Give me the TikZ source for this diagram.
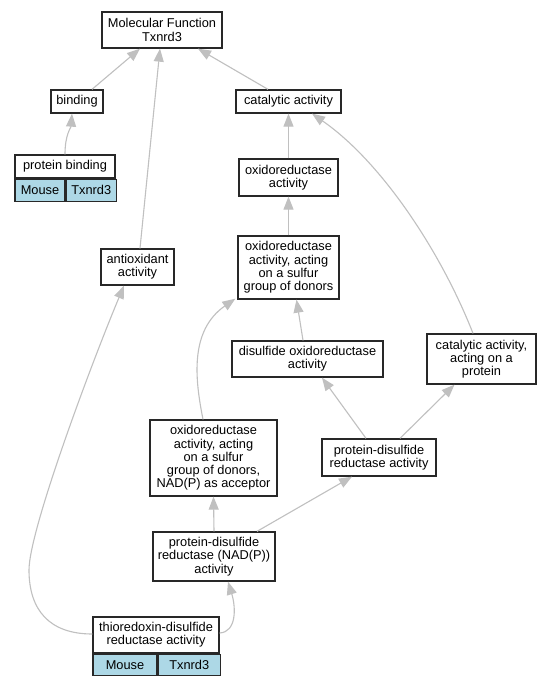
\documentclass[tikz,border=0pt]{standalone}
\usepackage{fontspec}
\setmainfont{Liberation Sans}
\usetikzlibrary{arrows.meta,calc}
\definecolor{edgegray}{RGB}{192,192,192}
\definecolor{cellblue}{RGB}{173,216,230}
\definecolor{boxline}{RGB}{40,40,40}
\begin{document}
\begin{tikzpicture}[x=1pt,y=-1pt,
  gobox/.style={draw=boxline,line width=1.3pt,fill=white,inner sep=0pt,align=center,
    font=\fontsize{12.8}{13.3}\selectfont},
  cellbox/.style={draw=boxline,line width=1.3pt,fill=cellblue,inner sep=0pt,align=center,
    font=\fontsize{12.8}{13.3}\selectfont,anchor=north west},
  isa/.style={draw=edgegray,line width=1.1pt,-{Triangle[length=13pt,width=10pt]},color=edgegray}
]
\useasboundingbox (0,0) rectangle (551,685);
\fill[white] (0,0) rectangle (551,685);

% nodes
\node[gobox,minimum width=120pt,minimum height=36pt] (mf) at (162,30) {Molecular Function\\Txnrd3};
\node[gobox,minimum width=52pt,minimum height=23pt] (binding) at (77,101.5) {binding};
\node[gobox,minimum width=105pt,minimum height=23pt] (catalytic) at (288.5,101.5) {catalytic activity};
\node[gobox,minimum width=100pt,minimum height=23pt] (pbind) at (65,166.5) {protein binding};
\node[cellbox,minimum width=50pt,minimum height=22pt] (pbm) at (pbind.south west) {Mouse};
\node[cellbox,minimum width=50pt,minimum height=22pt] (pbt) at (pbm.north east) {Txnrd3};
\node[gobox,minimum width=99pt,minimum height=37pt] (oxact) at (288.5,177.5) {oxidoreductase\\activity};
\node[gobox,minimum width=73pt,minimum height=36pt] (antiox) at (137.5,267) {antioxidant\\activity};
\node[gobox,minimum width=101pt,minimum height=63pt] (sulfur) at (288.5,267.5) {oxidoreductase\\activity, acting\\on a sulfur\\group of donors};
\node[gobox,minimum width=151pt,minimum height=36pt] (disulf) at (307.5,359) {disulfide oxidoreductase\\activity};
\node[gobox,minimum width=109pt,minimum height=50pt] (catprot) at (481.5,359) {catalytic activity,\\acting on a\\protein};
\node[gobox,minimum width=127pt,minimum height=76pt] (nadp) at (213.5,458) {oxidoreductase\\activity, acting\\on a sulfur\\group of donors,\\NAD(P) as acceptor};
\node[gobox,minimum width=114pt,minimum height=37pt] (pdr) at (379,457.5) {protein-disulfide\\reductase activity};
\node[gobox,minimum width=122pt,minimum height=49pt] (pdrn) at (214,556.5) {protein-disulfide\\reductase (NAD(P))\\activity};
\node[gobox,minimum width=126pt,minimum height=36pt] (thio) at (156,635) {thioredoxin-disulfide\\reductase activity};
\node[cellbox,minimum width=64pt,minimum height=21pt] (thm) at (thio.south west) {Mouse};
\node[cellbox,minimum width=62pt,minimum height=21pt] (tht) at (thm.north east) {Txnrd3};

% edges
\draw[isa] ($(binding.north)+(15,0)$) -- ($(mf.south)+(-22,0)$);
\draw[isa] ($(catalytic.north)+(-20.5,0)$) -- ($(mf.south)+(36,0)$);
\draw[isa] ($(antiox.north)+(2.5,0)$) -- ($(mf.south)+(-2,0)$);
\draw[isa] (pbind.north) .. controls ($(pbind.north)+(0,-20)$) and ($(binding.south)+(-6,14)$) .. ($(binding.south)+(-5,0)$);
\draw[isa] (oxact.north) -- (catalytic.south);
\draw[isa] (sulfur.north) -- (oxact.south);
\draw[isa] ($(disulf.north)+(-4.5,0)$) -- ($(sulfur.south)+(8,0)$);
\draw[isa] ($(catprot.north)+(-8.5,0)$) .. controls ($(catprot.north)+(-41.5,-84)$) and ($(catalytic.south)+(91.5,47)$) .. ($(catalytic.south)+(23.5,0)$);
\draw[isa] ($(nadp.north)+(-10.5,0)$) .. controls ($(nadp.north)+(-18.5,-40)$) and ($(sulfur.south west)+(-48,31)$) .. ($(sulfur.south west)+(-2,-1)$);
\draw[isa] ($(pdr.north)+(-13,0)$) -- ($(disulf.south)+(14.5,0)$);
\draw[isa] ($(pdr.north)+(21,0)$) -- ($(catprot.south)+(-27,0)$);
\draw[isa] (pdrn.north) -- (nadp.south);
\draw[isa] ($(pdrn.north)+(43,0)$) -- ($(pdr.south)+(-27,0)$);
\draw[isa] ($(thio.east)+(0,-2)$) .. controls ($(thio.east)+(17,-3)$) and ($(pdrn.south)+(22,26)$) .. ($(pdrn.south)+(14,0)$);
\draw[isa] ($(thio.west)+(0,-1)$) .. controls ($(thio.west)+(-43,-1)$) and (29,610) .. (29,570)
  .. controls (29,530) and ($(antiox.south)+(-45,75)$) .. ($(antiox.south)+(-13.5,0)$);
\end{tikzpicture}
\end{document}
